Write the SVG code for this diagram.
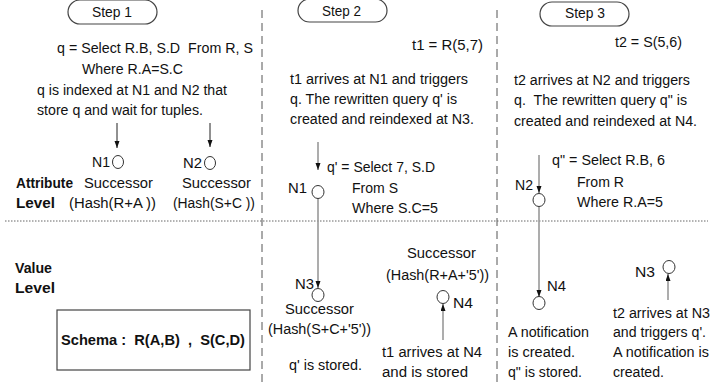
<svg xmlns="http://www.w3.org/2000/svg" width="723" height="385" viewBox="0 0 723 385">
<style>
text{font-family:"Liberation Sans",Arial,sans-serif;font-size:15.5px;fill:#111}
.b{font-weight:bold}
.pill{fill:#fff;stroke:#444;stroke-width:1.2}
.node{fill:#fff;stroke:#333;stroke-width:1}
.sep{stroke:#555;stroke-width:1;stroke-dasharray:8,5;fill:none}
.dot{stroke:#666;stroke-width:1;stroke-dasharray:1.5,1.5;fill:none}
.ab{stroke:#222;stroke-width:1;fill:none}
.ag{stroke:#999;stroke-width:1.6;fill:none}
</style>
<defs>
<marker id="ah" markerUnits="userSpaceOnUse" markerWidth="8" markerHeight="6" refX="7" refY="2.5" orient="auto">
<path d="M0,0 L7,2.5 L0,5 z" fill="#111"/>
</marker>
</defs>
<rect width="723" height="385" fill="#fff"/>

<g id="separators">
<line class="sep" x1="262" y1="10" x2="262" y2="385"/>
<line class="sep" x1="497" y1="10" x2="497" y2="385"/>
<line class="dot" x1="5" y1="221" x2="708" y2="221"/>
</g>

<g id="step1">
<rect class="pill" x="68" y="0" width="89" height="24" rx="12"/>
<text x="92" y="17" textLength="40" lengthAdjust="spacingAndGlyphs">Step 1</text>
<text x="57" y="53" textLength="196" lengthAdjust="spacingAndGlyphs" xml:space="preserve">q = Select R.B, S.D  From R, S</text>
<text x="82" y="74" textLength="101" lengthAdjust="spacingAndGlyphs">Where R.A=S.C</text>
<text x="37" y="95" textLength="190" lengthAdjust="spacingAndGlyphs">q is indexed at N1 and N2 that</text>
<text x="37" y="115" textLength="166" lengthAdjust="spacingAndGlyphs">store q and wait for tuples.</text>
</g>

<g id="step2">
<rect class="pill" x="298" y="-1" width="89" height="23" rx="11.5"/>
<text x="322" y="16" textLength="39" lengthAdjust="spacingAndGlyphs">Step 2</text>
<text x="412" y="50" textLength="71" lengthAdjust="spacingAndGlyphs">t1 = R(5,7)</text>
<text x="290" y="84" textLength="178" lengthAdjust="spacingAndGlyphs">t1 arrives at N1 and triggers</text>
<text x="290" y="104" textLength="167" lengthAdjust="spacingAndGlyphs">q. The rewritten query q' is</text>
<text x="290" y="124" textLength="184" lengthAdjust="spacingAndGlyphs">created and reindexed at N3.</text>
<text x="327" y="172" textLength="108" lengthAdjust="spacingAndGlyphs">q' = Select 7, S.D</text>
<text x="352" y="193" textLength="46" lengthAdjust="spacingAndGlyphs">From S</text>
<text x="352" y="213" textLength="86" lengthAdjust="spacingAndGlyphs">Where S.C=5</text>
</g>

<g id="step3">
<rect class="pill" x="540" y="2" width="89" height="24" rx="12"/>
<text x="565" y="18" textLength="40" lengthAdjust="spacingAndGlyphs">Step 3</text>
<text x="615" y="47" textLength="67" lengthAdjust="spacingAndGlyphs">t2 = S(5,6)</text>
<text x="514" y="85" textLength="176" lengthAdjust="spacingAndGlyphs">t2 arrives at N2 and triggers</text>
<text x="514" y="105" textLength="173" lengthAdjust="spacingAndGlyphs" xml:space="preserve">q.  The rewritten query q" is</text>
<text x="514" y="126" textLength="183" lengthAdjust="spacingAndGlyphs">created and reindexed at N4.</text>
<text x="552" y="165" textLength="113" lengthAdjust="spacingAndGlyphs">q" = Select R.B, 6</text>
<text x="577" y="187" textLength="47" lengthAdjust="spacingAndGlyphs">From R</text>
<text x="577" y="207" textLength="86" lengthAdjust="spacingAndGlyphs">Where R.A=5</text>
</g>

<g id="levels">
<text class="b" x="16" y="188" textLength="57" lengthAdjust="spacingAndGlyphs">Attribute</text>
<text class="b" x="16" y="208" textLength="39" lengthAdjust="spacingAndGlyphs">Level</text>
<text class="b" x="15" y="273" textLength="37" lengthAdjust="spacingAndGlyphs">Value</text>
<text class="b" x="15" y="293" textLength="40" lengthAdjust="spacingAndGlyphs">Level</text>
</g>

<g id="schema">
<rect x="57" y="310" width="193" height="60" fill="#fff" stroke="#444" stroke-width="1.2"/>
<text class="b" x="61" y="345" textLength="184" lengthAdjust="spacingAndGlyphs" xml:space="preserve">Schema :  R(A,B)  ,  S(C,D)</text>
</g>

<g id="connectors">
<line class="ab" x1="117" y1="123" x2="117" y2="148" marker-end="url(#ah)"/>
<line class="ab" x1="210" y1="123" x2="210" y2="147" marker-end="url(#ah)"/>
<line class="ag" x1="318" y1="142" x2="318" y2="170" marker-end="url(#ah)"/>
<line class="ag" x1="318" y1="198" x2="318" y2="288" marker-end="url(#ah)"/>
<line class="ag" x1="443" y1="340" x2="443" y2="304" marker-end="url(#ah)"/>
<line class="ag" x1="539" y1="155" x2="539" y2="193" marker-end="url(#ah)"/>
<line class="ag" x1="539" y1="207" x2="539" y2="297" marker-end="url(#ah)"/>
<line class="ag" x1="668" y1="300" x2="668" y2="274" marker-end="url(#ah)"/>
</g>

<g id="s1-N1">
<ellipse class="node" cx="118" cy="162" rx="5.5" ry="6.5"/>
<text x="92" y="167" textLength="18" lengthAdjust="spacingAndGlyphs">N1</text>
<text x="84" y="188" textLength="69" lengthAdjust="spacingAndGlyphs">Successor</text>
<text x="69" y="208" textLength="87" lengthAdjust="spacingAndGlyphs" xml:space="preserve">(Hash(R+A ))</text>
</g>

<g id="s1-N2">
<ellipse class="node" cx="210" cy="163" rx="5.5" ry="6.5"/>
<text x="183" y="168" textLength="19" lengthAdjust="spacingAndGlyphs">N2</text>
<text x="182" y="188" textLength="69" lengthAdjust="spacingAndGlyphs">Successor</text>
<text x="173" y="208" textLength="82" lengthAdjust="spacingAndGlyphs" xml:space="preserve">(Hash(S+C ))</text>
</g>

<g id="s2-N1">
<ellipse class="node" cx="318" cy="192" rx="6" ry="6.5"/>
<text x="288" y="193" textLength="19" lengthAdjust="spacingAndGlyphs">N1</text>
</g>

<g id="s2-N3">
<ellipse class="node" cx="318" cy="295" rx="6" ry="6.5"/>
<text x="295" y="289" textLength="19" lengthAdjust="spacingAndGlyphs">N3</text>
<text x="285" y="314" textLength="69" lengthAdjust="spacingAndGlyphs">Successor</text>
<text x="268" y="334" textLength="103" lengthAdjust="spacingAndGlyphs">(Hash(S+C+'5'))</text>
<text x="289" y="370" textLength="73" lengthAdjust="spacingAndGlyphs">q' is stored.</text>
</g>

<g id="s2-N4">
<text x="407" y="258" textLength="69" lengthAdjust="spacingAndGlyphs">Successor</text>
<text x="386" y="280" textLength="103" lengthAdjust="spacingAndGlyphs">(Hash(R+A+'5'))</text>
<ellipse class="node" cx="443" cy="297" rx="6" ry="6.5"/>
<text x="453" y="308" textLength="20" lengthAdjust="spacingAndGlyphs">N4</text>
<text x="382" y="357" textLength="100" lengthAdjust="spacingAndGlyphs">t1 arrives at N4</text>
<text x="382" y="377" textLength="86" lengthAdjust="spacingAndGlyphs">and is stored</text>
</g>

<g id="s3-N2">
<ellipse class="node" cx="539" cy="200" rx="6" ry="6.5"/>
<text x="515" y="190" textLength="18" lengthAdjust="spacingAndGlyphs">N2</text>
</g>

<g id="s3-N4">
<ellipse class="node" cx="539" cy="303" rx="6" ry="6.5"/>
<text x="547" y="291" textLength="19" lengthAdjust="spacingAndGlyphs">N4</text>
<text x="508" y="337" textLength="81" lengthAdjust="spacingAndGlyphs">A notification</text>
<text x="508" y="357" textLength="67" lengthAdjust="spacingAndGlyphs">is created.</text>
<text x="508" y="377" textLength="74" lengthAdjust="spacingAndGlyphs">q" is stored.</text>
</g>

<g id="s3-N3">
<ellipse class="node" cx="669" cy="267" rx="6" ry="6.5"/>
<text x="635" y="277" textLength="20" lengthAdjust="spacingAndGlyphs">N3</text>
<text x="613" y="318" textLength="97" lengthAdjust="spacingAndGlyphs">t2 arrives at N3</text>
<text x="613" y="337" textLength="93" lengthAdjust="spacingAndGlyphs">and triggers q'.</text>
<text x="613" y="357" textLength="96" lengthAdjust="spacingAndGlyphs">A notification is</text>
<text x="613" y="377" textLength="51" lengthAdjust="spacingAndGlyphs">created.</text>
</g>
</svg>
